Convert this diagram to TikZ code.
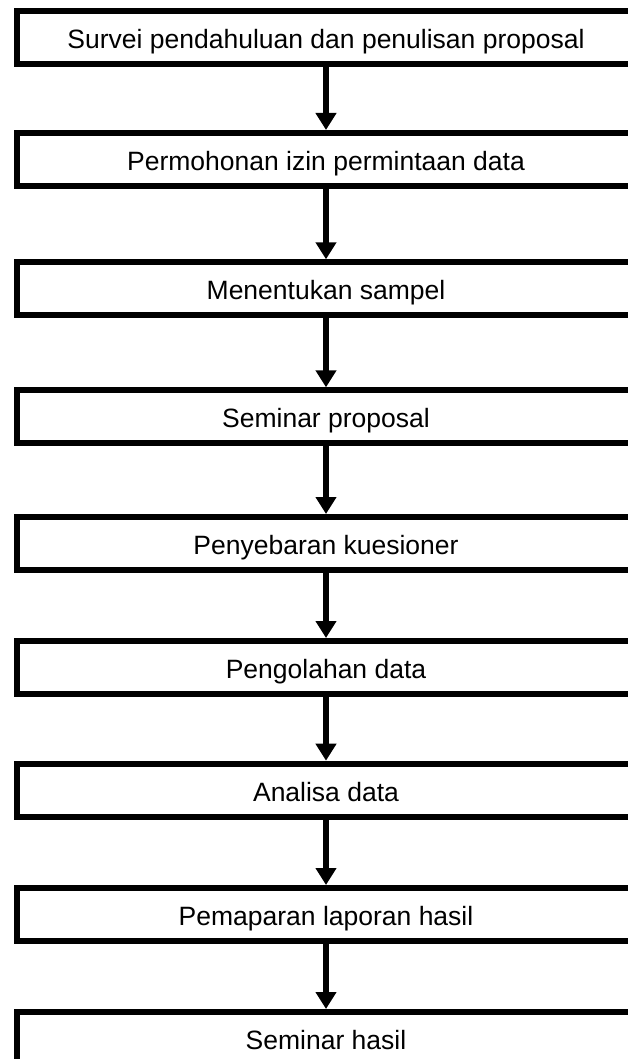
\documentclass[tikz,border=0pt]{standalone}
\usepackage{fontspec}
\setmainfont{Liberation Sans}
\usetikzlibrary{arrows.meta}
\begin{document}
\begin{tikzpicture}[x=1pt,y=-1pt,
  stepbox/.style={draw=black, line width=6pt, rectangle, inner sep=0pt,
    minimum width=619pt, minimum height=53pt,
    text height=21.6pt, text depth=0pt,
    font=\fontsize{26.5pt}{30pt}\selectfont},
  flowarrow/.style={draw=black, line width=6pt, -{Triangle[width=20pt,length=17pt]}}
]
\clip (0,0) rectangle (628,1059);
\fill[white] (0,0) rectangle (628,1059);
\node[stepbox] (s1) at (326,38) {Survei pendahuluan dan penulisan proposal};
\node[stepbox] (s2) at (326,159.5) {Permohonan izin permintaan data};
\node[stepbox] (s3) at (326,288.8) {Menentukan sampel};
\node[stepbox] (s4) at (326,416.8) {Seminar proposal};
\node[stepbox] (s5) at (326,543.5) {Penyebaran kuesioner};
\node[stepbox] (s6) at (326,667.5) {Pengolahan data};
\node[stepbox] (s7) at (326,790.2) {Analisa data};
\node[stepbox] (s8) at (326,914.5) {Pemaparan laporan hasil};
\node[stepbox] (s9) at (326,1038.5) {Seminar hasil};
\foreach \a/\b in {s1/s2,s2/s3,s3/s4,s4/s5,s5/s6,s6/s7,s7/s8,s8/s9}
  \draw[flowarrow] (\a.south) -- (\b.north);
\end{tikzpicture}
\end{document}
